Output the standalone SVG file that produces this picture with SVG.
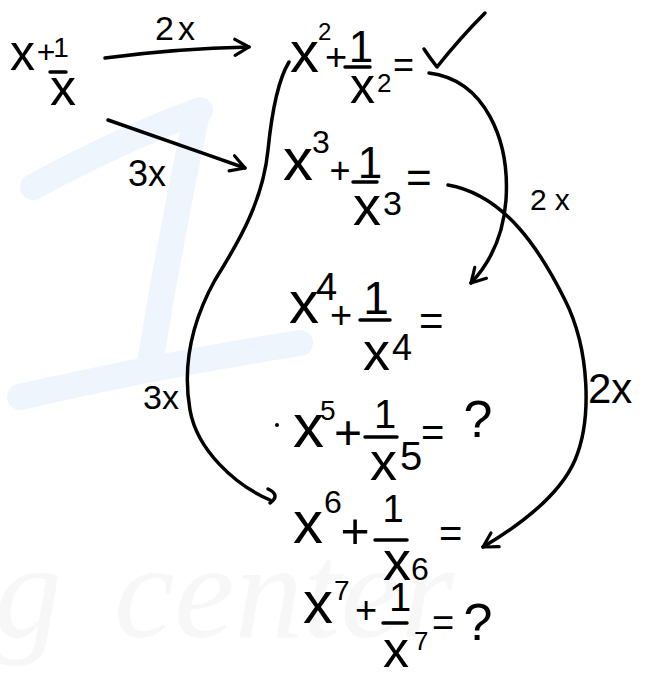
<svg xmlns="http://www.w3.org/2000/svg" width="649" height="674" viewBox="0 0 649 674">
<style>
text{font-family:"Liberation Sans",Arial,sans-serif;fill:#000}
.c{text-anchor:middle}
.bar{stroke:#000;stroke-width:3.5;stroke-linecap:round}
.ln{fill:none;stroke:#000;stroke-width:3.5;stroke-linecap:round;stroke-linejoin:round}
.wm{fill:none;stroke:#eef5fc;stroke-width:26;stroke-linecap:round}
.wt{font-family:"Liberation Serif",serif;font-style:italic;font-size:136px;fill:#f7f7f7}
</style>
<defs>
<marker id="ah" markerUnits="userSpaceOnUse" viewBox="0 0 20 20" refX="17" refY="10" markerWidth="20" markerHeight="20" orient="auto">
<path d="M3,2 L17,10 L3,18" fill="none" stroke="#000" stroke-width="3.2" stroke-linecap="round" stroke-linejoin="round"/>
</marker>
</defs>
<rect width="649" height="674" fill="#fff"/>
<g id="watermark">
<path class="wm" d="M33,187 Q120,140 200,110"/>
<path class="wm" d="M197,113 Q170,240 150,363"/>
<path class="wm" d="M20,397 Q160,365 300,343"/>
<text class="wt" y="637"><tspan x="-6">g</tspan><tspan x="114">center</tspan></text>
</g>
<g id="connectors">
<path class="ln" d="M105,58 C150,52 200,48 249,47" marker-end="url(#ah)"/>
<path class="ln" d="M108,120 C160,138 200,152 245,168" marker-end="url(#ah)"/>
<path class="ln" d="M429,73 C485,80 510,140 506,200 C503,240 488,265 471,283" marker-end="url(#ah)"/>
<path class="ln" d="M448,185 C505,195 540,250 565,300 C590,350 592,420 575,460 C560,495 520,525 483,547" marker-end="url(#ah)"/>
<path class="ln" d="M289,62 C278,80 272,110 268,150 C263,200 240,240 215,280 C190,325 183,370 190,410 C197,450 235,485 270,500"/>
<path class="ln" d="M268,489 Q281,495 270,503"/>
<text x="155" y="40" font-size="34" letter-spacing="4">2x</text>
<text x="128" y="186" font-size="36">3x</text>
<text x="530" y="210" font-size="30" letter-spacing="8">2x</text>
<text x="143" y="409" font-size="34">3x</text>
<text x="588" y="403" font-size="42">2x</text>
</g>
<g id="node-x1">
<text x="10" y="70" font-size="50">x</text>
<text x="46" y="63" font-size="32" class="c">+</text>
<text x="61" y="57" font-size="28" class="c">1</text>
<line class="bar" x1="50" y1="72" x2="66" y2="72"/>
<text x="50" y="105" font-size="52">x</text>
</g>
<g id="node-x2">
<text x="290" y="72" font-size="58">x</text>
<text x="318" y="40" font-size="24">2</text>
<text x="336" y="70" font-size="38" class="c">+</text>
<text x="361" y="62" font-size="44" class="c">1</text>
<line class="bar" x1="345" y1="67" x2="370" y2="67"/>
<text x="350" y="103" font-size="50">x</text>
<text x="377" y="92" font-size="26">2</text>
<text x="393" y="77" font-size="36">=</text>
<path class="ln" d="M424,49 Q430,58 437,67 Q460,38 485,13" stroke-width="4"/>
</g>
<g id="node-x3">
<text x="283" y="180" font-size="60">x</text>
<text x="312" y="153" font-size="32">3</text>
<text x="340" y="183" font-size="36" class="c">+</text>
<text x="370" y="178" font-size="44" class="c">1</text>
<line class="bar" x1="353" y1="182" x2="377" y2="182"/>
<text x="353" y="225" font-size="56">x</text>
<text x="383" y="215" font-size="34">3</text>
<text x="406" y="193" font-size="44">=</text>
</g>
<g id="node-x4">
<text x="289" y="323" font-size="60">x</text>
<text x="316" y="300" font-size="38">4</text>
<text x="341" y="328" font-size="38" class="c">+</text>
<text x="376" y="314" font-size="46" class="c">1</text>
<line class="bar" x1="360" y1="320" x2="390" y2="320"/>
<text x="363" y="370" font-size="54">x</text>
<text x="392" y="360" font-size="36">4</text>
<text x="419" y="335" font-size="42">=</text>
</g>
<g id="node-x5">
<circle cx="277" cy="425" r="2"/>
<text x="293" y="447" font-size="62">x</text>
<text x="320" y="420" font-size="28">5</text>
<text x="348" y="449" font-size="48" class="c">+</text>
<text x="385" y="428" font-size="40" class="c">1</text>
<line class="bar" x1="365" y1="437" x2="397" y2="437"/>
<text x="370" y="480" font-size="54">x</text>
<text x="400" y="470" font-size="40">5</text>
<text x="421" y="446" font-size="40">=</text>
<text x="478" y="437" font-size="52" class="c">?</text>
</g>
<g id="node-x6">
<text x="293" y="543" font-size="60">x</text>
<text x="324" y="513" font-size="32">6</text>
<text x="355" y="548" font-size="50" class="c">+</text>
<text x="393" y="522" font-size="38" class="c">1</text>
<line class="bar" x1="375" y1="540" x2="407" y2="540"/>
<text x="383" y="580" font-size="56">x</text>
<text x="411" y="580" font-size="32">6</text>
<text x="439" y="547" font-size="40">=</text>
</g>
<g id="node-x7">
<text x="303" y="623" font-size="60">x</text>
<text x="334" y="600" font-size="28">7</text>
<text x="366" y="623" font-size="38" class="c">+</text>
<text x="400" y="611" font-size="40" class="c">1</text>
<line class="bar" x1="383" y1="623" x2="407" y2="623"/>
<text x="383" y="667" font-size="52">x</text>
<text x="414" y="650" font-size="26">7</text>
<text x="432" y="636" font-size="38">=</text>
<text x="478" y="640" font-size="52" class="c">?</text>
</g>
</svg>
